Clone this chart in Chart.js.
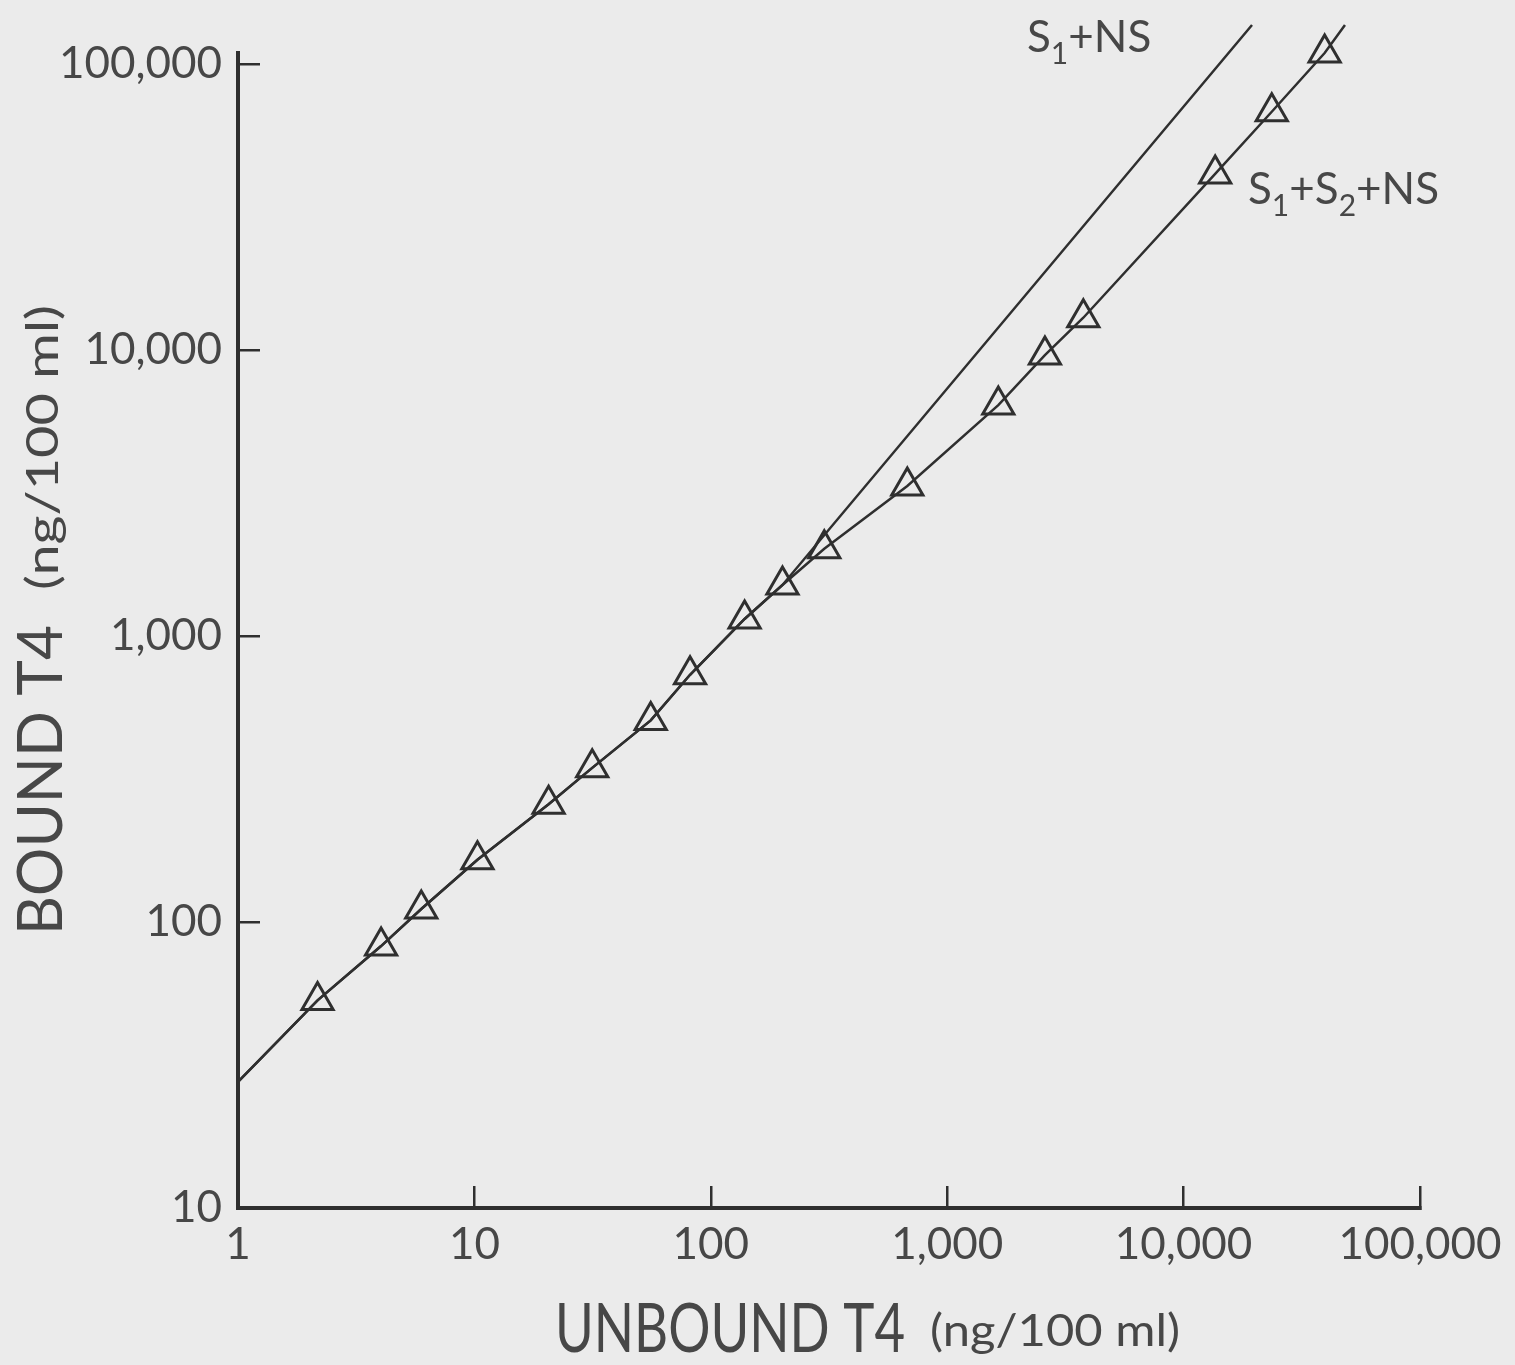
<!DOCTYPE html>
<html lang="en">
<head>
<meta charset="UTF-8">
<title>Bound vs unbound T4</title>
<script src="https://cdn.jsdelivr.net/npm/chart.js"></script>
<style>
  body { margin: 0; background: #ebebeb; }
  canvas { display: block; }
</style>
</head>
<body>
<canvas id="t4Chart" width="1515" height="1365"></canvas>
<script>
// tick values of the two log axes
const xTicks = [1, 10, 100, 1000, 10000, 100000];
const yTicks = [10, 100, 1000, 10000, 100000];

// triangles (S1+S2+NS)
const unboundT4 = [2.17, 4.03, 5.96, 10.3, 20.6, 31.5, 55.7, 81.7, 139, 201, 302, 678, 1645, 2590, 3765, 13600, 23600, 39500];
const boundT4 = [53.2, 82.4, 111, 165, 258, 346, 507, 732, 1147, 1508, 2020, 3345, 6420, 9600, 12970, 41300, 68100, 109300];

// where both curves start at the y axis
const startFree = 1;
const startBound = 27.6;

// upper ends of the two curves
const s12EndFree = 48150;
const s12EndBound = 136900;
const s1EndFree = 19470;
const s1EndBound = 136900;

// S1+NS runs together with the triangle curve for the first points
const sharedCount = 10;

const ink = '#2f2f2f';
const textInk = '#474747';
const font = 'Lato, "DejaVu Sans", sans-serif';

function pts(xs, ys) {
  return xs.map((x, i) => ({ x: x, y: ys[i] }));
}

const s12Curve = pts([startFree, ...unboundT4, s12EndFree], [startBound, ...boundT4, s12EndBound]);
const s1Curve = pts([startFree, ...unboundT4.slice(0, sharedCount), s1EndFree],
                    [startBound, ...boundT4.slice(0, sharedCount), s1EndBound]);

// parts: [text, font size, baseline shift, width to squeeze into (optional)]
function drawParts(ctx, parts, x, y) {
  parts.forEach(p => {
    ctx.font = p[1] + 'px ' + font;
    const w = ctx.measureText(p[0]).width;
    const target = p[3] || w;
    ctx.save();
    ctx.translate(x, y + p[2]);
    ctx.scale(target / w, 1);
    ctx.fillText(p[0], 0, 0);
    ctx.restore();
    x += target;
  });
}

const textPlugin = {
  id: 'texts',
  afterDraw(chart) {
    const ctx = chart.ctx;
    ctx.save();
    ctx.fillStyle = textInk;
    ctx.textAlign = 'left';
    ctx.textBaseline = 'alphabetic';

    // x axis title
    drawParts(ctx, [['UNBOUND T4', 68, 0, 350], [' ', 44, 0, 25], ['(ng/100 ml)', 44, -6, 250]], 555, 1352);

    // y axis title
    ctx.save();
    ctx.translate(62, 935);
    ctx.rotate(-Math.PI / 2);
    drawParts(ctx, [['BOUND T4', 62, 0, 310], [' ', 44, 0, 35], ['(ng/100 ml)', 44, -4, 285]], 0, 0);
    ctx.restore();

    // curve labels
    drawParts(ctx, [['S', 44, 0], ['1', 30, 12], ['+NS', 44, 0]], 1027, 52);
    drawParts(ctx, [['S', 44, 0], ['1', 30, 12], ['+S', 44, 0], ['2', 30, 12], ['+NS', 44, 0]], 1248, 204);
    ctx.restore();
  }
};

const ctx = document.getElementById('t4Chart').getContext('2d');
new Chart(ctx, {
  type: 'scatter',
  data: {
    datasets: [
      {
        label: 'S1+NS',
        data: s1Curve,
        showLine: true,
        pointRadius: 0,
        borderColor: ink,
        borderWidth: 2.5,
        clip: false
      },
      {
        label: 'S1+S2+NS',
        data: s12Curve,
        showLine: true,
        pointRadius: 0,
        borderColor: ink,
        borderWidth: 2.5,
        clip: false
      },
      {
        label: 'S1+S2+NS points',
        data: pts(unboundT4, boundT4),
        showLine: false,
        pointStyle: 'triangle',
        pointRadius: 18,
        pointBorderWidth: 3,
        borderColor: ink,
        backgroundColor: 'rgba(0,0,0,0)',
        clip: false
      }
    ]
  },
  options: {
    responsive: false,
    animation: false,
    layout: { padding: { top: 53, right: 95, left: 0, bottom: 0 } },
    plugins: {
      legend: { display: false },
      tooltip: { enabled: false }
    },
    scales: {
      x: {
        type: 'logarithmic',
        min: 1,
        max: 100000,
        afterBuildTicks: s => { s.ticks = xTicks.map(v => ({ value: v })); },
        afterFit: s => { s.height = 157; s.paddingLeft = 0; s.paddingRight = 0; },
        border: { color: ink, width: 4 },
        grid: { drawOnChartArea: false, tickLength: -22, color: ink, lineWidth: 2.5 },
        ticks: {
          color: textInk,
          padding: 32,
          maxRotation: 0,
          autoSkip: false,
          font: { family: font, size: 44 },
          callback: v => Number(v).toLocaleString('en-US')
        }
      },
      y: {
        type: 'logarithmic',
        min: 10,
        max: 109300,
        afterBuildTicks: s => { s.ticks = yTicks.map(v => ({ value: v })); },
        afterFit: s => { s.width = 238; s.paddingTop = 0; s.paddingBottom = 0; },
        border: { color: ink, width: 4 },
        grid: { drawOnChartArea: false, tickLength: -22, color: ink, lineWidth: 2.5 },
        ticks: {
          color: textInk,
          padding: 38,
          autoSkip: false,
          font: { family: font, size: 44 },
          callback: v => Number(v).toLocaleString('en-US')
        }
      }
    }
  },
  plugins: [textPlugin]
});
</script>
</body>
</html>
